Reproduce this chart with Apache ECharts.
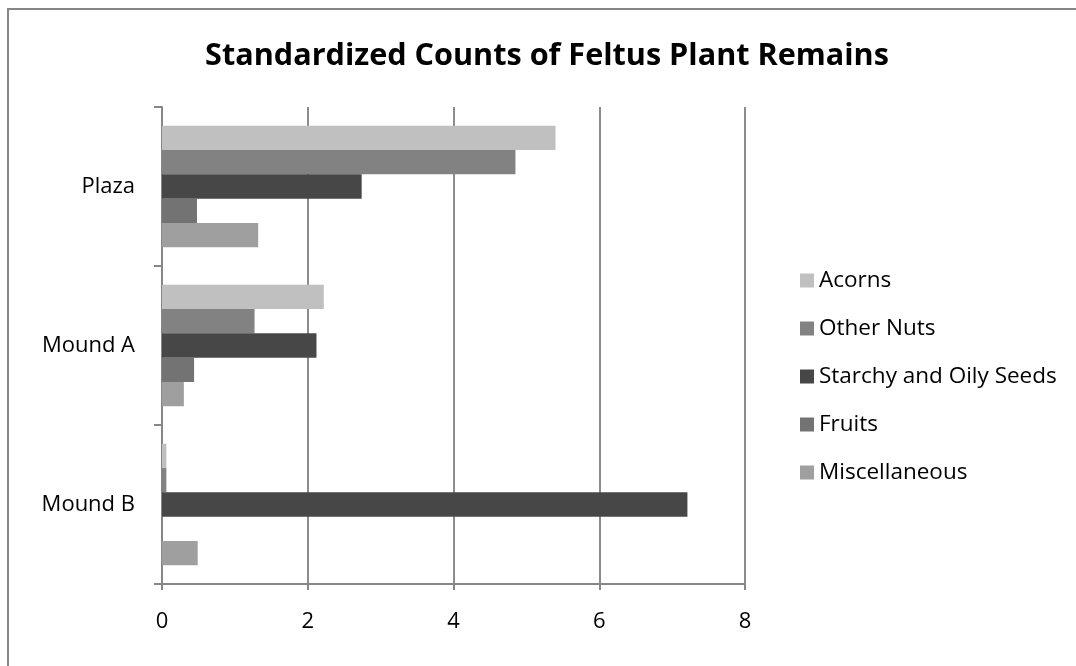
<!DOCTYPE html>
<html>
<head>
<meta charset="utf-8">
<script src="https://cdn.jsdelivr.net/npm/echarts@6/dist/echarts.min.js"></script>
<style>
html,body{margin:0;padding:0;background:#fff;overflow:hidden;}
#chart{width:1076px;height:666px;}
</style>
</head>
<body>
<div id="chart"></div>
<script>
// Categories (bottom to top on the y axis)
const categories = ['Mound B', 'Mound A', 'Plaza'];
const seriesNames = ['Acorns', 'Other Nuts', 'Starchy and Oily Seeds', 'Fruits', 'Miscellaneous'];
// values per series, in category order [Mound B, Mound A, Plaza]
const acorns = [0.06, 2.22, 5.40];
const otherNuts = [0.06, 1.27, 4.85];
const starchySeeds = [7.21, 2.12, 2.74];
const fruits = [0, 0.44, 0.48];
const miscellaneous = [0.49, 0.30, 1.32];
const xTicks = [0, 2, 4, 6, 8];
const colors = ['#c0c0c0', '#828282', '#474747', '#737373', '#9f9f9f'];

const seriesValues = [acorns, otherNuts, starchySeeds, fruits, miscellaneous];
const fontFamily = '"Open Sans", sans-serif';

const chart = echarts.init(document.getElementById('chart'), null, {renderer: 'canvas'});
chart.setOption({
  animation: false,
  color: colors,
  title: {
    text: 'Standardized Counts of Feltus Plant Remains',
    left: 542,
    textAlign: 'center',
    top: 36,
    textStyle: {fontFamily: fontFamily, fontWeight: 'bold', fontSize: 30.6, color: '#000'}
  },
  graphic: [{
    type: 'polyline',
    shape: {points: [[8, 680], [8, 9], [1090, 9]]},
    style: {fill: 'none', stroke: '#868686', lineWidth: 2},
    silent: true
  }],
  legend: {
    orient: 'vertical',
    left: 795,
    top: 264,
    itemWidth: 14,
    itemHeight: 14,
    itemGap: 25,
    icon: 'rect',
    data: seriesNames,
    textStyle: {fontFamily: fontFamily, fontSize: 22.5, color: '#000', lineHeight: 21, padding: [0, 0, 0, 0]}
  },
  grid: {left: 162, right: 331, top: 107, bottom: 82, containLabel: false},
  xAxis: {
    type: 'value',
    min: xTicks[0],
    max: xTicks[xTicks.length - 1],
    interval: 2,
    axisLine: {show: true, lineStyle: {color: '#868686', width: 2}},
    axisTick: {show: true, length: 6, lineStyle: {color: '#868686', width: 2}},
    splitLine: {show: true, lineStyle: {color: '#8c8c8c', width: 2}},
    axisLabel: {fontFamily: fontFamily, fontSize: 22, color: '#000', margin: 27}
  },
  yAxis: {
    type: 'category',
    data: categories,
    axisLine: {show: true, lineStyle: {color: '#868686', width: 2}},
    axisTick: {show: true, length: 8, lineStyle: {color: '#868686', width: 2}},
    axisLabel: {fontFamily: fontFamily, fontSize: 22, color: '#000', margin: 27}
  },
  series: seriesNames.map((name, i) => ({
    name: name,
    type: 'bar',
    data: seriesValues[i],
    barGap: '0%',
    barCategoryGap: '23.6%',
    itemStyle: {color: colors[i]}
  }))
});
</script>
</body>
</html>
